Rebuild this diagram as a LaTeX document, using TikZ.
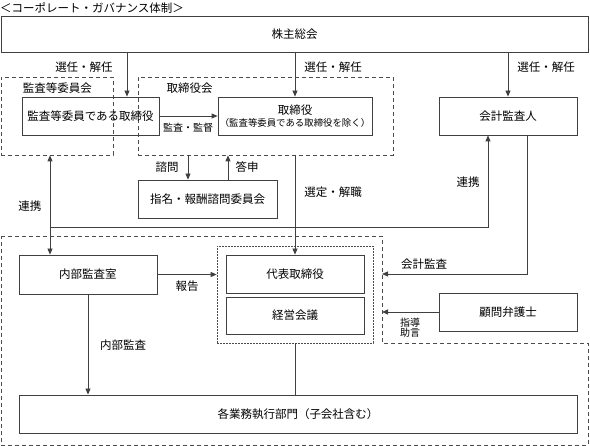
\documentclass[tikz,border=0pt]{standalone}
\usepackage{fontspec}
\newfontfamily\jpfont{Noto Sans CJK JP}
\usetikzlibrary{arrows.meta}
\tikzset{
  >={Triangle[length=6pt,width=5pt]},
  line/.style={draw=black!75,line width=0.8pt},
  arr/.style={line,->},
  box/.style={draw=black!75,line width=0.8pt,inner sep=0,minimum height=38pt},
  group/.style={draw=black!70,line width=0.7pt,dash pattern=on 4pt off 3pt},
  subgroup/.style={draw=black!70,line width=0.7pt,dash pattern=on 1.6pt off 1.4pt},
  lbl/.style={inner sep=0},
  small/.style={font=\jpfont\fontsize{10}{11}\selectfont}
}

\begin{document}
\begin{tikzpicture}
[x=1pt,y=-1pt,every node/.style={font=\jpfont\fontsize{11.5}{13}\selectfont}]
\useasboundingbox (0,0) rectangle (590,446);

\node[lbl,anchor=west] (title) at (0,8) {＜コーポレート・ガバナンス体制＞};

\node[box,minimum width=587pt,minimum height=36pt] (agm) at (294.5,34) {株主総会};

\node[group,minimum width=112pt,minimum height=78pt] (acgroup) at (57,116) {};
\node[group,minimum width=255pt,minimum height=78pt] (bdgroup) at (265.5,116) {};
\node[lbl] (acname) at (57.5,88) {監査等委員会};
\node[lbl] (bdname) at (189.5,88) {取締役会};

\node[box,minimum width=137pt] (auddir) at (90.5,116) {監査等委員である取締役};
\node[box,minimum width=154pt,align=center] (dir) at (295,116)
  {取締役\\[-1pt]{\fontsize{9.4}{11}\selectfont （監査等委員である取締役を除く）}};
\node[box,minimum width=138pt] (acaud) at (508,116) {会計監査人};
\node[box,minimum width=139pt] (nomcom) at (207.5,199) {指名・報酬諮問委員会};

\draw[group] (1,236) -- (382,236) -- (382,343) -- (588,343) -- (588,445) -- (1,445) -- cycle;
\node[subgroup,minimum width=156pt,minimum height=97pt] (exgroup) at (295,294.5) {};
\node[box,minimum width=138pt] (ceo) at (295,274) {代表取締役};
\node[box,minimum width=138pt,minimum height=37pt] (mgmt) at (295,315.5) {経営会議};
\node[box,minimum width=138pt,minimum height=39pt] (intaud) at (88,274.5) {内部監査室};
\node[box,minimum width=138pt] (lawyer) at (508,312) {顧問弁護士};
\node[box,minimum width=558pt] (depts) at (298,414) {各業務執行部門（子会社含む）};

\coordinate (sel) at (127,0);
\coordinate (cons) at (188,0);
\coordinate (resp) at (228,0);
\coordinate (lk) at (50,227);
\coordinate (oe) at (382,236);

\draw[arr] (agm.south -| sel) -- (auddir.north -| sel);
\draw[arr] (agm.south -| dir.north) -- (dir.north);
\draw[arr] (agm.south -| acaud.north) -- (acaud.north);
\draw[arr] (auddir.east) -- (dir.west);
\draw[arr] (bdgroup.south -| cons) -- (nomcom.north -| cons);
\draw[arr] (nomcom.north -| resp) -- (bdgroup.south -| resp);
\draw[arr] (bdgroup.south -| ceo.north) -- (ceo.north);
\draw[line,<->] (acgroup.south -| lk) -- (intaud.north -| lk);
\draw[arr] (lk) -| ([xshift=-20pt]acaud.south);
\draw[arr] ([xshift=19pt]acaud.south) |- (oe |- ceo.east);
\draw[arr] (lawyer.west) -- (oe |- lawyer.west);
\draw[arr] (intaud.east) -- (exgroup.west |- intaud.east);
\draw[arr] (intaud.south) -- (depts.north -| intaud.south);
\draw[line] (exgroup.south) -- (depts.north -| exgroup.south);

\node[lbl] (sel1) at (84,67) {選任・解任};
\node[lbl] (sel2) at (333,67) {選任・解任};
\node[lbl] (sel3) at (546,67) {選任・解任};
\node[lbl,small] (supv) at (188,128) {監査・監督};
\node[lbl] (consl) at (167,167) {諮問};
\node[lbl] (respl) at (247,167) {答申};
\node[lbl] (lk1) at (30,206) {連携};
\node[lbl] (lk2) at (468,182) {連携};
\node[lbl] (appt) at (333,192) {選定・解職};
\node[lbl] (rep) at (187,286) {報告};
\node[lbl] (acal) at (424,264) {会計監査};
\node[lbl,small,align=center] (advl) at (410,328) {指導\\[-1pt]助言};
\node[lbl] (iaudl) at (123,345) {内部監査};
\end{tikzpicture}
\end{document}
